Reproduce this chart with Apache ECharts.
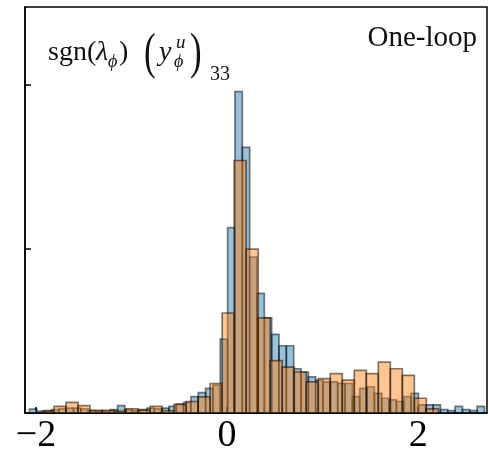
<!DOCTYPE html>
<html>
<head>
<meta charset="utf-8">
<script src="https://cdn.jsdelivr.net/npm/echarts@6/dist/echarts.min.js"></script>
<style>
  html, body { margin: 0; padding: 0; background: #fff; }
  #chart { width: 489px; height: 457px; }
</style>
</head>
<body>
<div id="chart"></div>
<script>
// histogram bins (density)
var blueStart = -2.068
var blueWidth = 0.0768
var blueHeights = [
  0.024, 0.01, 0.015, 0.02, 0.025, 0.03, 0.03, 0.025, 0.015, 0.012,
  0.012, 0.02, 0.045, 0.02, 0.015, 0.02, 0.03, 0.025, 0.03, 0.04,
  0.055, 0.065, 0.1, 0.124, 0.15, 0.17, 0.45, 1.13, 1.96, 1.62,
  0.95, 0.73, 0.58, 0.48, 0.41, 0.41, 0.27, 0.25, 0.22, 0.2,
  0.19, 0.19, 0.18, 0.18, 0.1, 0.15, 0.16, 0.12, 0.09, 0.08,
  0.07, 0.1, 0.12, 0.05, 0.05, 0.05, 0.02, 0.015, 0.04, 0.02,
  0.015, 0.04
]
var orangeStart = -1.937
var orangeWidth = 0.1257
var orangeHeights = [
  0.012, 0.04, 0.065, 0.045, 0.016, 0.016, 0.012, 0.026, 0.018, 0.04,
  0.014, 0.052, 0.07, 0.098, 0.18, 0.61, 1.54, 1.0, 0.58, 0.32,
  0.28, 0.25, 0.19, 0.21, 0.24, 0.2, 0.26, 0.24, 0.31, 0.27,
  0.23, 0.09, 0.025
]
var xTicks = [-2, 0, 2]
var yTicks = [1, 2]

function toBins(start, width, heights) {
  return heights.map(function (h, i) {
    return [start + i * width, start + (i + 1) * width, h]
  })
}

function histItem(fill) {
  return function (params, api) {
    var p0 = api.coord([api.value(0), api.value(2)])
    var p1 = api.coord([api.value(1), 0])
    var rect = echarts.graphic.clipRectByRect(
      { x: p0[0], y: p0[1], width: p1[0] - p0[0], height: p1[1] - p0[1] },
      { x: params.coordSys.x, y: params.coordSys.y, width: params.coordSys.width, height: params.coordSys.height }
    )
    return rect && {
      type: 'rect',
      shape: rect,
      style: { fill: fill, stroke: 'rgba(0,0,0,0.5)', lineWidth: 1.7 }
    }
  }
}

var serif = 'Liberation Serif'
function txt(s, x, y, size, italic, extra) {
  var el = {
    type: 'text',
    x: x, y: y,
    style: {
      text: s, fill: '#111', fontFamily: serif, fontSize: size,
      fontStyle: italic ? 'italic' : 'normal',
      textAlign: 'left', textVerticalAlign: 'middle'
    }
  }
  if (extra) Object.keys(extra).forEach(function (k) { el[k] = extra[k] })
  return el
}

var chart = echarts.init(document.getElementById('chart'))
chart.setOption({
  animation: false,
  grid: { left: 25, right: 2, top: 7, bottom: 44, show: true, borderColor: '#000', borderWidth: 1.5 },
  xAxis: {
    type: 'value',
    min: -2.115,
    max: 2.72,
    splitLine: { show: false },
    axisLine: { show: true, onZero: false, lineStyle: { color: '#000', width: 1.5 } },
    axisTick: { show: true, inside: true, length: 6, customValues: xTicks, lineStyle: { color: '#000', width: 1.5 } },
    axisLabel: {
      customValues: xTicks,
      margin: 4,
      color: '#000',
      fontFamily: serif,
      fontSize: 38,
      formatter: function (v) { return v < 0 ? '\u2212' + (-v) : String(v) }
    }
  },
  yAxis: {
    type: 'value',
    min: 0,
    max: 2.476,
    splitLine: { show: false },
    axisLine: { show: true, onZero: false, lineStyle: { color: '#000', width: 1.5 } },
    axisTick: { show: true, inside: true, length: 6, customValues: yTicks, lineStyle: { color: '#000', width: 1.5 } },
    axisLabel: { show: false }
  },
  series: [
    {
      type: 'custom',
      renderItem: histItem('rgba(31,119,180,0.45)'),
      encode: { x: [0, 1], y: 2 },
      data: toBins(blueStart, blueWidth, blueHeights)
    },
    {
      type: 'custom',
      renderItem: histItem('rgba(255,127,14,0.45)'),
      encode: { x: [0, 1], y: 2 },
      data: toBins(orangeStart, orangeWidth, orangeHeights)
    }
  ],
  graphic: [
    txt('sgn(', 48, 53, 28, false),
    txt('\u03bb', 96, 53, 28, true),
    txt('\u03d5', 108, 62, 18, true),
    txt(')', 119, 53, 28, false),
    txt('(', 144, 55, 50, false, { scaleX: 0.7 }),
    txt('y', 159, 53, 28, true),
    txt('u', 176, 43, 19, true),
    txt('\u03d5', 174, 62, 18, true),
    txt(')', 190, 55, 50, false, { scaleX: 0.7 }),
    txt('33', 210, 75, 20, false),
    {
      type: 'text', x: 477, y: 38,
      style: {
        text: 'One-loop', fill: '#111', fontFamily: serif, fontSize: 29,
        textAlign: 'right', textVerticalAlign: 'middle'
      }
    }
  ]
})
</script>
</body>
</html>
